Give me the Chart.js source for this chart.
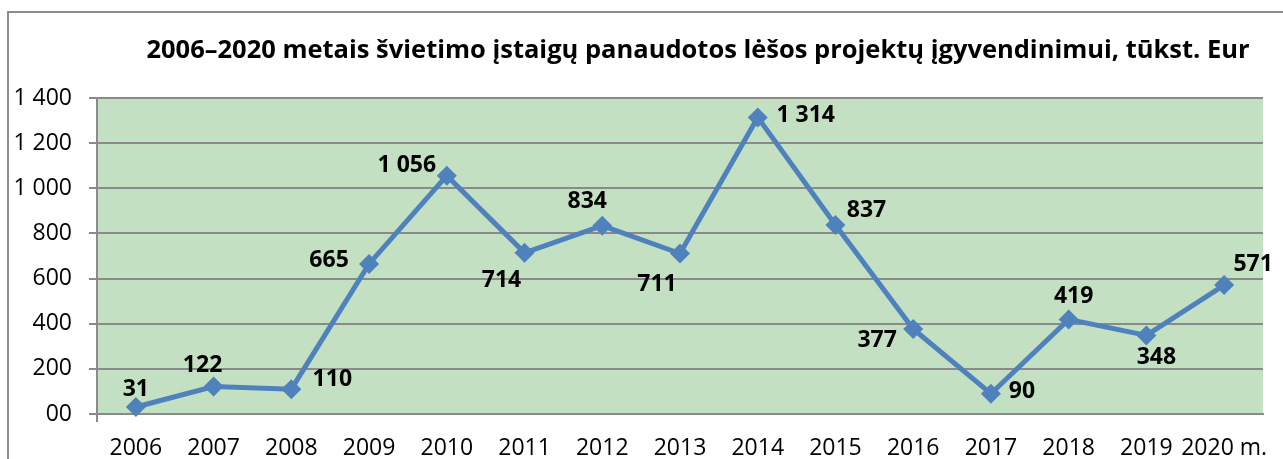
<!DOCTYPE html>
<html>
<head>
<meta charset="utf-8">
<script src="https://cdn.jsdelivr.net/npm/chart.js@4"></script>
<style>
html,body{margin:0;padding:0;background:#fff;}
#wrap{width:1283px;height:459px;position:relative;}
</style>
</head>
<body>
<div id="wrap"><canvas id="c" width="1283" height="459"></canvas></div>
<script>
const categories = ['2006','2007','2008','2009','2010','2011','2012','2013','2014','2015','2016','2017','2018','2019','2020 m.'];
const values = [31,122,110,665,1056,714,834,711,1314,837,377,90,419,348,571];
const yTickLabels = ['00','200','400','600','800','1 000','1 200','1 400'];
const titleText = '2006–2020 metais švietimo įstaigų panaudotos lėšos projektų įgyvendinimui, tūkst. Eur';

// label placement offsets (px) relative to each point
const labelOffsets = [[0,-18],[-11,-21],[41,-10],[-40,-3],[-40,-10],[-23,28],[-15,-24],[-23,31],[48,-2],[31,-15],[-36,12],[31,-2],[5,-23],[10,22],[29,-21]];

function fmt(v){ return String(v).replace(/\B(?=(\d{3})+(?!\d))/g,' '); }

const GRID = '#8a8a8a';
const FONT = "'Open Sans', 'DejaVu Sans', sans-serif";

const decor = {
  id:'decor',
  beforeDraw(chart){
    const {ctx, chartArea:a} = chart;
    ctx.save();
    ctx.fillStyle = '#c4e0c2';
    ctx.fillRect(a.left, a.top, a.right-a.left, a.bottom-a.top);
    ctx.restore();
  },
  afterDraw(chart){
    const {ctx} = chart;
    ctx.save();
    // outer frame (partially visible)
    ctx.strokeStyle = '#8c8c8c';
    ctx.lineWidth = 2;
    ctx.beginPath();
    ctx.moveTo(8, 459); ctx.lineTo(8, 12); ctx.lineTo(1283, 12);
    ctx.stroke();
    // title
    ctx.fillStyle = '#000';
    ctx.font = "bold 25.5px " + FONT;
    ctx.textAlign = 'center';
    ctx.textBaseline = 'middle';
    ctx.fillText(titleText, 698, 51);
    // data labels
    const meta = chart.getDatasetMeta(0);
    ctx.font = "bold 23px " + FONT;
    meta.data.forEach((pt, i) => {
      const o = labelOffsets[i];
      ctx.fillText(fmt(values[i]), pt.x + o[0], pt.y + o[1]);
    });
    ctx.restore();
  }
};

new Chart(document.getElementById('c'), {
  type:'line',
  data:{
    labels: categories,
    datasets:[{
      data: values,
      borderColor:'#4f81bd',
      backgroundColor:'#4f81bd',
      borderWidth:5,
      pointStyle:'rectRot',
      pointRadius:10,
      pointHoverRadius:10,
      pointBackgroundColor:'#4f81bd',
      pointBorderColor:'#4f81bd',
      pointBorderWidth:0,
      tension:0,
      clip:false
    }]
  },
  options:{
    responsive:false,
    animation:false,
    events:[],
    layout:{padding:{top:98,right:20,left:0,bottom:0}},
    plugins:{legend:{display:false},tooltip:{enabled:false},title:{display:false}},
    scales:{
      x:{
        offset:true,
        grid:{
          offset:true,
          drawOnChartArea:false,
          drawTicks:true,
          tickLength:8,
          lineWidth:2,
          color:(c)=> c.index===0 ? GRID : 'rgba(0,0,0,0)'
        },
        border:{display:true,color:GRID,width:2},
        ticks:{color:'#000',font:{family:FONT,size:23},padding:13,maxRotation:0,autoSkip:false},
        afterFit(s){ s.height = 45; }
      },
      y:{
        min:0,max:1400,
        grid:{color:GRID,lineWidth:2,tickLength:8,drawTicks:true},
        border:{display:true,color:GRID,width:2},
        ticks:{
          stepSize:200,
          color:'#000',
          font:{family:FONT,size:23},
          padding:17,
          callback:(v,i)=> yTickLabels[i]
        },
        afterFit(s){ s.width = 97; }
      }
    }
  },
  plugins:[decor]
});
</script>
</body>
</html>
